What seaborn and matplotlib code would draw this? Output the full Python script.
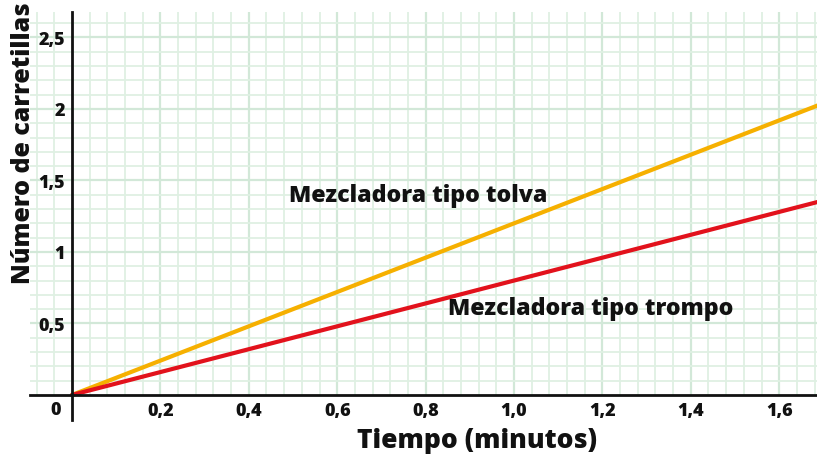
import matplotlib
matplotlib.use("Agg")
import matplotlib.pyplot as plt
import seaborn as sns
import numpy as np
import pandas as pd

# Data
tiempo = [0.0, 1.7]
tolva = [0.0, 2.04]
trompo = [0.0, 1.36]
x_ticks = [0.2, 0.4, 0.6, 0.8, 1.0, 1.2, 1.4, 1.6]
x_tick_labels = ["0,2", "0,4", "0,6", "0,8", "1,0", "1,2", "1,4", "1,6"]
y_ticks = [0.5, 1.0, 1.5, 2.0, 2.5]
y_tick_labels = ["0,5", "1", "1,5", "2", "2,5"]

sns.set_theme(style="white")
plt.rcParams["font.family"] = ["Open Sans", "DejaVu Sans"]
W = "heavy"

fig = plt.figure(figsize=(8.17, 4.56), dpi=100)
ax = fig.add_axes([0.0367, 0.0768, 0.9633, 0.8947])
xmin, xmax = -0.095, 1.6855
ymin, ymax = -0.175, 2.678
ax.set_xlim(xmin, xmax)
ax.set_ylim(ymin, ymax)

# grid
minor_c = "#dff0e3"
major_c = "#d2e8d8"
for i in range(-2, 43):
    xv = i * 0.04
    if xv < xmin or xv > xmax or abs(xv) < 1e-9:
        continue
    major = (i % 5 == 0)
    ax.vlines(xv, 0, ymax, colors=major_c if major else minor_c,
              linewidth=1.6 if major else 1.3, zorder=0)
for j in range(1, 27):
    yv = j * 0.1
    major = (j % 5 == 0)
    ax.hlines(yv, xmin, xmax, colors=major_c if major else minor_c,
              linewidth=1.6 if major else 1.3, zorder=0)

df = pd.DataFrame({"t": tiempo, "tolva": tolva, "trompo": trompo})
sns.lineplot(data=df, x="t", y="tolva", color="#f6b000", linewidth=3.0, ax=ax, zorder=3)
sns.lineplot(data=df, x="t", y="trompo", color="#e2121c", linewidth=3.0, ax=ax, zorder=3)

for s in ["top", "right"]:
    ax.spines[s].set_visible(False)
ax.spines["left"].set_position(("data", 0))
ax.spines["bottom"].set_position(("data", 0))
for s in ["left", "bottom"]:
    ax.spines[s].set_color("#111111")
    ax.spines[s].set_linewidth(2.0)
    ax.spines[s].set_zorder(4)

ax.set_xticks(x_ticks)
ax.set_xticklabels(x_tick_labels)
ax.set_yticks(y_ticks)
ax.set_yticklabels(y_tick_labels)
ax.tick_params(axis="both", length=0, labelsize=13, labelcolor="#111111")
ax.tick_params(axis="x", pad=5)
ax.tick_params(axis="y", pad=5)
for lab in ax.get_xticklabels() + ax.get_yticklabels():
    lab.set_fontweight(W)

ax.text(-0.025, -0.04, "0", ha="right", va="top", fontsize=13, fontweight=W, color="#111111")

ax.set_xlabel("")
ax.set_ylabel("")
fig.text(477 / 817, 1 - 441 / 456, "Tiempo (minutos)", ha="center", va="center",
         fontsize=19, fontweight=W, color="#111111")
fig.text(24 / 817, 1 - 143 / 456, "Número de carretillas", ha="center", va="center",
         rotation=90, fontsize=18, fontweight=W, color="#111111")

ax.text(0.49, 1.40, "Mezcladora tipo tolva", ha="left", va="center",
        fontsize=16.7, fontweight=W, color="#111111")
ax.text(0.85, 0.61, "Mezcladora tipo trompo", ha="left", va="center",
        fontsize=16.7, fontweight=W, color="#111111")

fig.savefig("out.png", dpi=100)
